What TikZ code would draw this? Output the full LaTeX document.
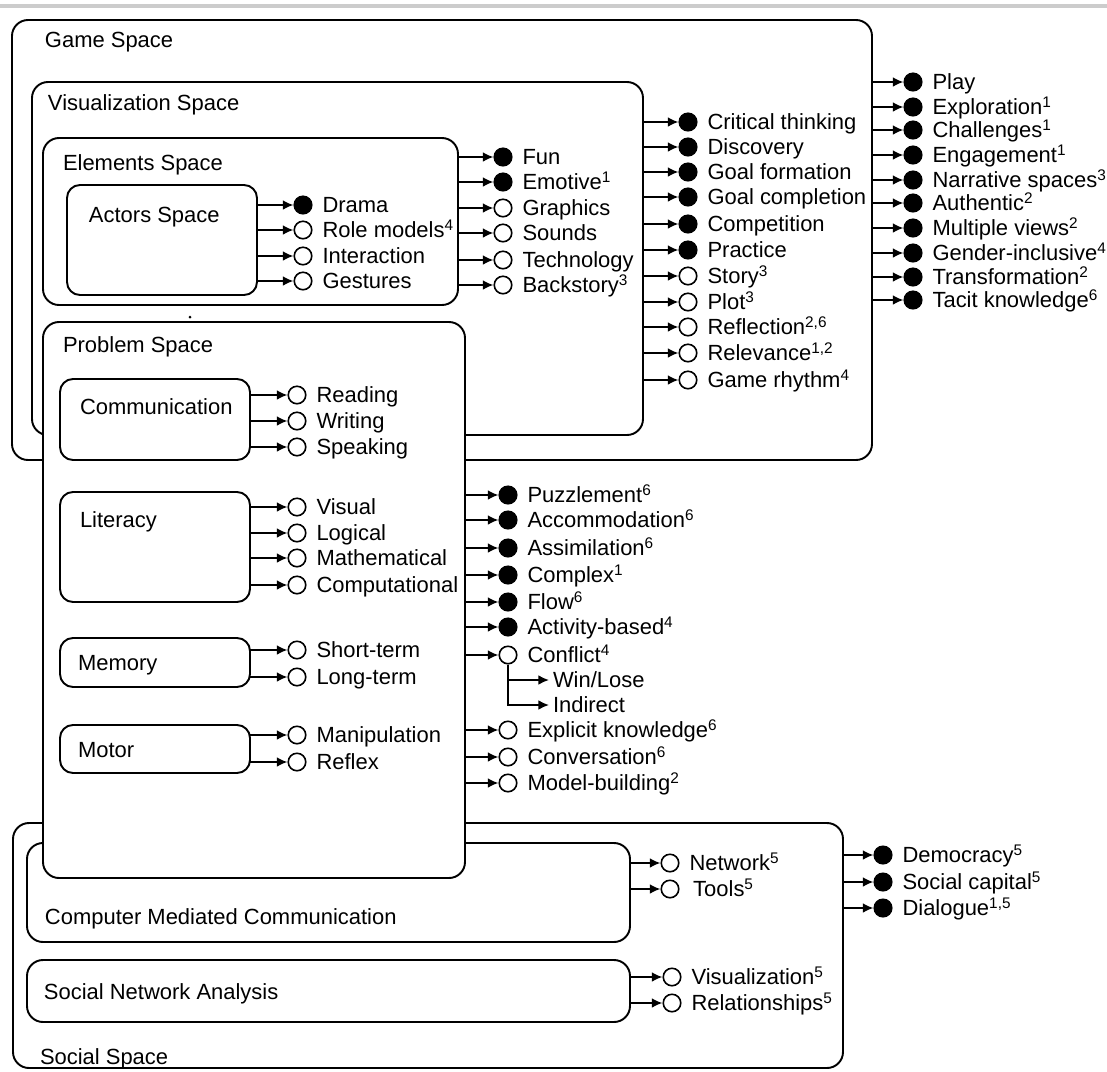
\documentclass[tikz,border=0pt]{standalone}
\usepackage{fontspec}
\setmainfont{Liberation Sans}
\usetikzlibrary{arrows.meta,fit}

\newcommand{\lbl}{\fontsize{12.5}{14.5}\selectfont}
\newcommand{\fn}[1]{\textsuperscript{#1}}

% one output item: arrow from the right edge of a box to a dot, then its label
% #1 source box, #2 name, #3 dot x, #4 row y, #5 dot style, #6 text
\newcommand{\leaf}[6]{%
  \node[#5] (#2) at (#3,#4) {};
  \node[lab] (#2-t) at ([xshift=0.2cm]#2.east) {#6};
  \draw[arr] (#1.east |- #2.center) -- (#2.west);
}

\begin{document}
\begin{tikzpicture}[x=0.02cm,y=-0.02cm,
  box/.style={draw=black, line width=1.1pt, rounded corners=0.32cm, fill=white,
              inner sep=0pt, outer sep=0pt},
  sbox/.style={box, rounded corners=0.26cm},
  lab/.style={anchor=west, inner sep=0pt, outer sep=0pt, font=\lbl,
              text height=9pt, text depth=0pt},
  dotf/.style={circle, draw=black, fill=black, line width=0.9pt,
               minimum size=0.35cm, inner sep=0pt},
  doto/.style={dotf, fill=white},
  arr/.style={line width=1pt, -{Latex[length=6pt,width=5.5pt]}},
]
\useasboundingbox (0,0) rectangle (1107,1072);
\draw[gray!40, line width=2pt] (0,6) -- (1107,6);

% ---------------- game space and its nested spaces ----------------
\node[box,  fit={(12,20) (872,460)}]  (game) {};
\node[box,  fit={(32,82) (643,435)}]  (vis) {};
\node[box,  fit={(43,138) (458,305)}] (elem) {};
\node[sbox, fit={(67,185) (257,295)}] (actors) {};

\node[lab] (game-t)   at (45,40)  {Game Space};
\node[lab] (vis-t)    at (48,103) {Visualization Space};
\node[lab] (elem-t)   at (63,163) {Elements Space};
\node[lab] (actors-t) at (89,215) {Actors Space};

\leaf{actors}{drama}{303}{205}{dotf}{Drama}
\leaf{actors}{role}{303}{230}{doto}{Role models\fn{4}}
\leaf{actors}{inter}{303}{256}{doto}{Interaction}
\leaf{actors}{gest}{303}{281}{doto}{Gestures}

\leaf{elem}{fun}{503}{157}{dotf}{Fun}
\leaf{elem}{emot}{503}{182}{dotf}{Emotive\fn{1}}
\leaf{elem}{graph}{503}{208}{doto}{Graphics}
\leaf{elem}{sound}{503}{233}{doto}{Sounds}
\leaf{elem}{tech}{503}{260}{doto}{Technology}
\leaf{elem}{back}{503}{285}{doto}{Backstory\fn{3}}

\leaf{vis}{crit}{688}{122}{dotf}{Critical thinking}
\leaf{vis}{disc}{688}{147}{dotf}{Discovery}
\leaf{vis}{gform}{688}{172}{dotf}{Goal formation}
\leaf{vis}{gcomp}{688}{197}{dotf}{Goal completion}
\leaf{vis}{compet}{688}{224}{dotf}{Competition}
\leaf{vis}{pract}{688}{250}{dotf}{Practice}
\leaf{vis}{story}{688}{276}{doto}{Story\fn{3}}
\leaf{vis}{plot}{688}{302}{doto}{Plot\fn{3}}
\leaf{vis}{refl}{688}{327}{doto}{Reflection\fn{2,6}}
\leaf{vis}{relev}{688}{353}{doto}{Relevance\fn{1,2}}
\leaf{vis}{rhythm}{688}{380}{doto}{Game rhythm\fn{4}}

\leaf{game}{play}{913}{82}{dotf}{Play}
\leaf{game}{explo}{913}{107}{dotf}{Exploration\fn{1}}
\leaf{game}{chall}{913}{130}{dotf}{Challenges\fn{1}}
\leaf{game}{engag}{913}{155}{dotf}{Engagement\fn{1}}
\leaf{game}{narr}{913}{180}{dotf}{Narrative spaces\fn{3}}
\leaf{game}{auth}{913}{203}{dotf}{Authentic\fn{2}}
\leaf{game}{multi}{913}{228}{dotf}{Multiple views\fn{2}}
\leaf{game}{gender}{913}{253}{dotf}{Gender-inclusive\fn{4}}
\leaf{game}{transf}{913}{277}{dotf}{Transformation\fn{2}}
\leaf{game}{tacit}{913}{300}{dotf}{Tacit knowledge\fn{6}}

% ---------------- social space ----------------
\node[box, fit={(13,823) (843,1068)}] (social) {};
\node[box, fit={(27,843) (630,942)}]  (cmc) {};
\node[box, fit={(27,960) (630,1022)}] (sna) {};

\node[lab] (cmc-t)    at (45,917)  {Computer Mediated Communication};
\node[lab] (sna-t)    at (44,992)  {Social Network Analysis};
\node[lab] (social-t) at (40,1057) {Social Space};

\leaf{cmc}{netw}{670}{863}{doto}{Network\fn{5}}
\leaf{cmc}{tools}{670}{889}{doto}{\,Tools\fn{5}}
\leaf{sna}{svis}{672}{977}{doto}{Visualization\fn{5}}
\leaf{sna}{rel}{672}{1003}{doto}{Relationships\fn{5}}

\leaf{social}{demo}{883}{855}{dotf}{Democracy\fn{5}}
\leaf{social}{scap}{883}{882}{dotf}{Social capital\fn{5}}
\leaf{social}{dial}{883}{908}{dotf}{Dialogue\fn{1,5}}

% ---------------- problem space, laid over the others ----------------
\fill (190,317) circle (1.5);
\node[box,  fit={(43,322) (465,878)}] (prob) {};
\node[sbox, fit={(60,379) (250,460)}] (comm) {};
\node[sbox, fit={(60,492) (250,602)}] (lit) {};
\node[sbox, fit={(60,638) (250,687)}] (mem) {};
\node[sbox, fit={(60,725) (250,773)}] (motor) {};

\node[lab] (prob-t)  at (63,345) {Problem Space};
\node[lab] (comm-t)  at (80,407) {Communication};
\node[lab] (lit-t)   at (80,520) {Literacy};
\node[lab] (mem-t)   at (78,663) {Memory};
\node[lab] (motor-t) at (78,750) {Motor};

\leaf{comm}{read}{297}{395}{doto}{Reading}
\leaf{comm}{writ}{297}{421}{doto}{Writing}
\leaf{comm}{speak}{297}{447}{doto}{Speaking}

\leaf{lit}{visual}{297}{507}{doto}{Visual}
\leaf{lit}{logic}{297}{533}{doto}{Logical}
\leaf{lit}{math}{297}{558}{doto}{Mathematical}
\leaf{lit}{comput}{297}{585}{doto}{Computational}

\leaf{mem}{short}{297}{650}{doto}{Short-term}
\leaf{mem}{long}{297}{677}{doto}{Long-term}

\leaf{motor}{manip}{297}{735}{doto}{Manipulation}
\leaf{motor}{reflex}{297}{762}{doto}{Reflex}

\leaf{prob}{puzz}{508}{495}{dotf}{Puzzlement\fn{6}}
\leaf{prob}{accom}{508}{520}{dotf}{Accommodation\fn{6}}
\leaf{prob}{assim}{508}{548}{dotf}{Assimilation\fn{6}}
\leaf{prob}{complex}{508}{575}{dotf}{Complex\fn{1}}
\leaf{prob}{flow}{508}{602}{dotf}{Flow\fn{6}}
\leaf{prob}{activ}{508}{627}{dotf}{Activity-based\fn{4}}
\leaf{prob}{confl}{508}{655}{doto}{Conflict\fn{4}}
\leaf{prob}{expl}{508}{730}{doto}{Explicit knowledge\fn{6}}
\leaf{prob}{conv}{508}{757}{doto}{Conversation\fn{6}}
\leaf{prob}{model}{508}{783}{doto}{Model-building\fn{2}}

% conflict splits into two kinds
\node[lab] (winlose)  at (553,680) {Win/Lose};
\node[lab] (indirect) at (553,705) {Indirect};
\draw[arr, shorten >=0.08cm] (confl.south) |- (winlose.west);
\draw[arr, shorten >=0.08cm] (confl.south) |- (indirect.west);
\end{tikzpicture}
\end{document}
